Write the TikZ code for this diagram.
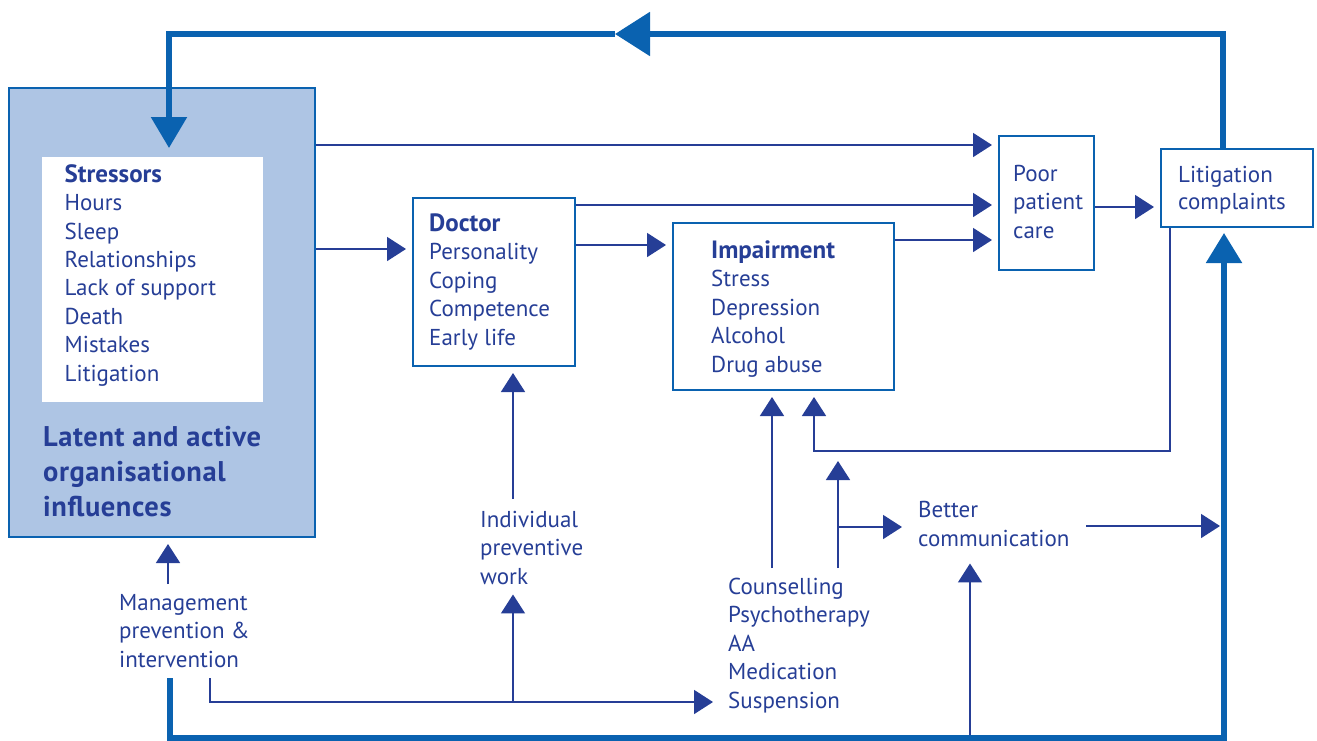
\documentclass[tikz,border=0pt]{standalone}
\usepackage{fontspec}
\setmainfont{PT Sans}
\usetikzlibrary{arrows.meta}
\definecolor{tblue}{RGB}{38,62,150}
\definecolor{mblue}{RGB}{10,98,176}
\definecolor{lblue}{RGB}{174,197,228}
\newcommand\bodysz{\fontsize{23}{28.4}\selectfont}
\newcommand\bigsz{\fontsize{28.5}{35}\selectfont\addfontfeature{LetterSpace=2}}
\newcommand\hd[1]{{\bfseries\fontsize{25}{28.4}\selectfont #1}}
\tikzset{
  box/.style={draw=mblue, line width=2.4pt, inner sep=0pt},
  lbl/.style={font=\bodysz, text=tblue, align=left, inner sep=0pt, anchor=base west},
  conn/.style={draw=tblue, line width=1.7pt, shorten >=6pt, -{Triangle[length=19pt,width=24pt]}},
  fat/.style={draw=mblue, line width=5.5pt},
}
\begin{document}
\begin{tikzpicture}[x=1pt,y=-1pt]
\useasboundingbox (0,0) rectangle (1317,740);
% boxes
\node[box, fill=lblue, minimum width=305.6pt, minimum height=448.6pt] (org) at (162,312.5) {};
\node[fill=white, minimum width=221pt, minimum height=245pt, inner sep=0pt] (stress) at (152.5,279.5) {};
\node[box, minimum width=161.6pt, minimum height=167.6pt] (doctor) at (494,282) {};
\node[box, minimum width=220.6pt, minimum height=166.6pt] (impair) at (783.5,306.5) {};
\node[box, minimum width=94.6pt, minimum height=133.6pt] (poor) at (1046.5,203) {};
\node[box, minimum width=151.6pt, minimum height=77.6pt] (litig) at (1237,188) {};
% texts (base = last line)
\node[lbl] (stresstxt) at (64.5,381) {\hd{Stressors}\\Hours\\Sleep\\Relationships\\Lack of support\\Death\\Mistakes\\Litigation};
\node[lbl, font=\bfseries\bigsz] (orgtxt) at (43,516) {Latent and active\\organisational\\influences};
\node[lbl] (doctortxt) at (429,345) {\hd{Doctor}\\Personality\\Coping\\Competence\\Early life};
\node[lbl] (impairtxt) at (711,372) {\hd{Impairment}\\Stress\\Depression\\Alcohol\\Drug abuse};
\node[lbl] (poortxt) at (1013,238) {Poor\\patient\\care};
\node[lbl, font=\fontsize{23}{27}\selectfont] (litigtxt) at (1178,209) {Litigation\\complaints};
\node[lbl] (mgmt) at (119,667) {Management\\prevention \&\\intervention};
\node[lbl] (indiv) at (480,584) {Individual\\preventive\\work};
\node[lbl] (counsel) at (728,708) {Counselling\\Psychotherapy\\AA\\Medication\\Suspension};
\node[lbl] (better) at (918,546) {Better\\communication};
% free ends
\coordinate (topmid) at (615,34);
\coordinate (loopl) at (814,451);
\coordinate (mgmtup) at (168,584);
\coordinate (mgmtfat) at (170,678);
\coordinate (mgmtthin) at (210,678);
\coordinate (split) at (513,702);
\coordinate (indivup) at (513,499);
\coordinate (counsa) at (772,568);
\coordinate (counsb) at (838,568);
\coordinate (counsc) at (838,527);
\coordinate (betterout) at (1086,526);
\coordinate (bottomup) at (970,738);
% connectors
\draw[conn] (org.east |- 0,249) -- (doctor.west |- 0,249);
\draw[conn] (org.east |- 0,145) -- (poor.west |- 0,145);
\draw[conn] (doctor.east |- 0,205) -- (poor.west |- 0,205);
\draw[conn] (doctor.east |- 0,245) -- (impair.west |- 0,245);
\draw[conn] (impair.east |- 0,240) -- (poor.west |- 0,240);
\draw[conn] (poor.east |- 0,207) -- (litig.west |- 0,207);
\draw[conn] (litig.south -| 1170,0) |- (loopl) -- (impair.south -| loopl);
\draw[conn] (mgmtup) -- (org.south -| mgmtup);
\draw[conn, shorten >=15pt] (mgmtthin) |- (counsel.west |- split);
\draw[conn, shorten >=10pt] (split) -- (indiv.south -| split);
\draw[conn] (indivup) -- (doctor.south -| indivup);
\draw[conn] (counsa) -- (impair.south -| counsa);
\draw[conn, shorten >=10pt] (counsb) -- (loopl -| counsb);
\draw[conn, shorten >=16pt] (counsc) -- (better.west |- counsc);
\draw[conn, shorten >=4pt] (betterout) -- (1224,526);
\draw[conn, shorten >=17pt] (bottomup) -- (better.south -| bottomup);
% feedback loops
\draw[fat, -{Triangle[length=35pt,width=43pt]}] (litig.north -| 1223,0) |- (topmid);
\draw[fat, -{Triangle[length=31pt,width=35pt]}] (topmid) -| (169,148);
\draw[fat, shorten >=5pt, -{Triangle[length=30pt,width=35pt]}] (mgmtfat) |- (1224,738) -- (litig.south -| 1224,0);
\end{tikzpicture}
\end{document}
